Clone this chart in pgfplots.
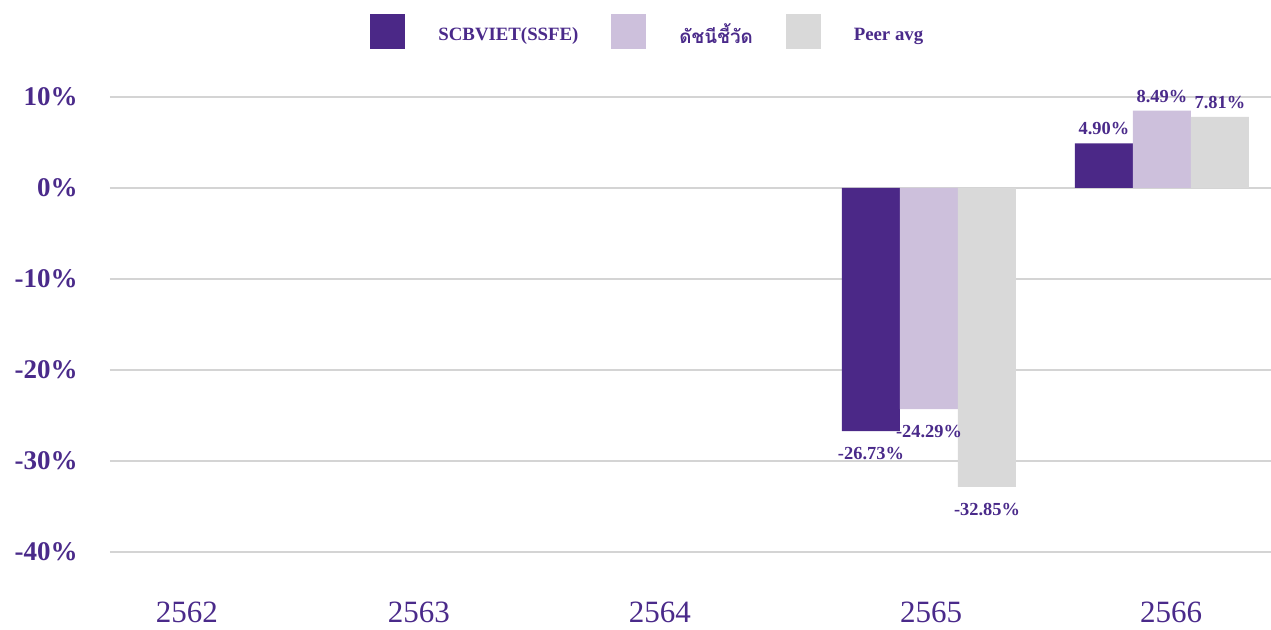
\documentclass[border=0pt]{standalone}
\usepackage{fontspec}
\setmainfont{Liberation Serif}
\newfontfamily\thaifont[Script=Thai]{Loma}
\usepackage{pgfplots}
\pgfplotsset{compat=1.18}
\definecolor{txtpurple}{HTML}{4A2A8A}
\definecolor{barA}{HTML}{4B2887}
\definecolor{barB}{HTML}{CDC0DC}
\definecolor{barC}{HTML}{D9D9D9}
\definecolor{gridc}{HTML}{D4D4D4}
\newcommand\legtext[1]{\raisebox{-3.5pt}{#1}}

\begin{document}
\begin{tikzpicture}
\path[use as bounding box] (0,0) rectangle (635.5pt,315pt);
\begin{axis}[
    at={(55pt,39pt)}, anchor=south west,
    scale only axis, width=580.5pt, height=227.5pt,
    clip=false,
    ybar, bar width=0.249,
    ymin=-40, ymax=10, ytick={-40,-30,...,10},
    xmin=-0.515, xmax=4.468,
    xtick={-0.185,0.811,1.845,3.009,4.039},
    xticklabels={2562,2563,2564,2565,2566},
    axis line style={draw=none},
    major tick length=0pt,
    ymajorgrids, grid style={gridc, line width=1.2pt},
    /pgf/number format/assume math mode=true,
    yticklabel={\pgfmathprintnumber{\tick}\%},
    yticklabel style={font=\bfseries\fontsize{13.5}{15}\selectfont, text=txtpurple, inner sep=0pt, anchor=east, xshift=-16pt},
    xticklabel style={font=\fontsize{15.5}{17}\selectfont, text=txtpurple, inner sep=0pt, anchor=north, yshift=-25pt},
    nodes near coords={\pgfmathprintnumber[fixed,fixed zerofill,precision=2]{\pgfplotspointmeta}\%},
    nodes near coords align=vertical,
    visualization depends on={rawy \as \rawy},
    every node near coord/.append style={font=\bfseries\fontsize{9.2}{10}\selectfont, text=txtpurple, inner sep=0pt, yshift={ifthenelse(\rawy<0,-8,4)}},
    legend columns=3,
    legend style={draw=none, fill=none, at={(0.224,1.143)}, anchor=west, inner sep=0pt,
        column sep=16.5pt,
        nodes={inner sep=0pt, font=\bfseries\fontsize{9.4}{10}\selectfont, text=txtpurple}},
    legend image code/.code={\fill[#1] (0pt,-8.75pt) rectangle (17.5pt,8.75pt);},
]
\addplot[fill=barA, draw=none, bar shift=-0.249] coordinates {(3,-26.73) (4,4.90)};
\addplot[fill=barB, draw=none, bar shift=0] coordinates {(3,-24.29) (4,8.49)};
\addplot[fill=barC, draw=none, bar shift=0.249] coordinates {(3,-32.85) (4,7.81)};
\legend{\legtext{SCBVIET(SSFE)}, \legtext{\thaifont\bfseries ดัชนีชี้วัด}, \legtext{Peer avg}}
\end{axis}
\end{tikzpicture}
\end{document}
